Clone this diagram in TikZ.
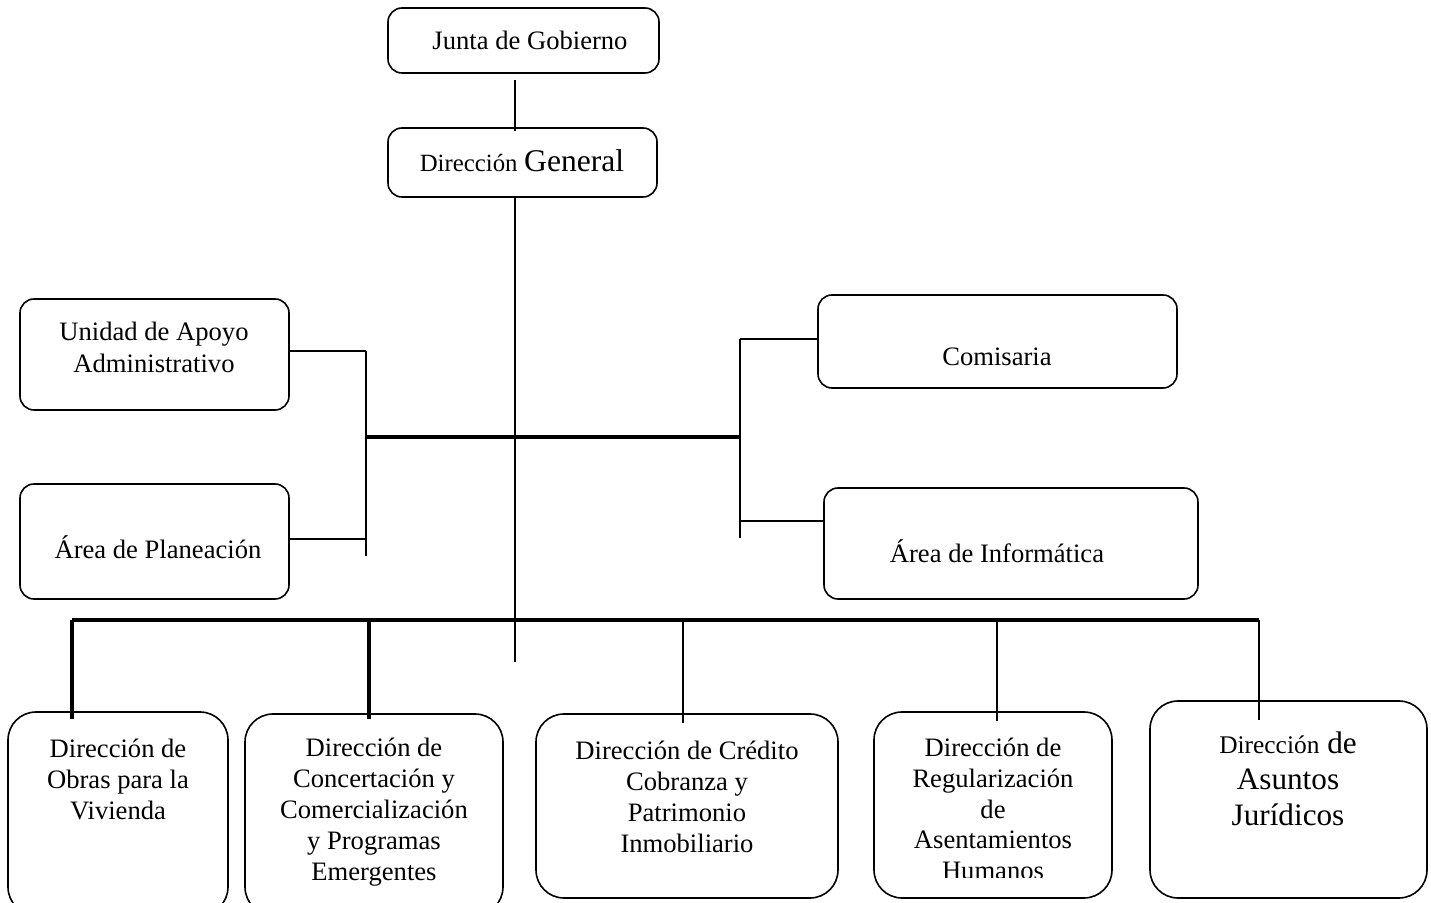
\documentclass[tikz,border=0pt]{standalone}
\usepackage{fontspec}
\setmainfont{Liberation Serif}
\begin{document}
\begin{tikzpicture}[x=0.5pt,y=-0.5pt,
  box/.style={draw,line width=0.8pt,rounded corners=7pt,inner sep=0pt,outer sep=0pt},
  bigbox/.style={box,rounded corners=14pt},
  txt/.style={inner sep=0pt,align=center,font=\fontsize{13.3}{15.5}\selectfont},
  ln/.style={line width=1pt},
  thk/.style={line width=1.6pt}]
\useasboundingbox (0,0) rectangle (1431,903);
\clip (0,0) rectangle (1431,903);
% top boxes
\node[box,minimum width=135.5pt,minimum height=32.5pt] (jg) at (523.5,40.5) {};
\node[txt] (jgt) at (530,40) {Junta de Gobierno};
\node[box,minimum width=134.5pt,minimum height=34.5pt] (dg) at (522.5,162.5) {};
\node[txt] (dgt) at (522,161) {{\fontsize{12.4}{15}\selectfont Dirección} {\fontsize{15.8}{18}\selectfont General}};
% staff boxes
\node[box,minimum width=134.5pt,minimum height=55.5pt] (ua) at (154.5,354.5) {};
\node[txt,font=\fontsize{13.3}{16}\selectfont] (uat) at (154,347) {Unidad de Apoyo\\Administrativo};
\node[box,minimum width=134.5pt,minimum height=57.5pt] (ap) at (154.5,541.5) {};
\node[txt] (apt) at (158,547) {Área de Planeación};
\node[box,minimum width=179.5pt,minimum height=46.5pt] (co) at (997.5,341.5) {};
\node[txt] (cot) at (997,357) {Comisaria};
\node[box,minimum width=187pt,minimum height=55.5pt] (ai) at (1011,543.5) {};
\node[txt] (ait) at (997,551) {Área de Informática};
% bottom boxes
\node[bigbox,minimum width=110pt,minimum height=101.5pt] (ob) at (118,813.5) {};
\node[txt] (obt) at (118,779.5) {Dirección de\\Obras para la\\Vivienda};
\node[bigbox,minimum width=129pt,minimum height=100.5pt] (cc) at (374,814.5) {};
\node[txt] (cct) at (374,812) {Dirección de\\Concertación y\\Comercialización\\y Programas\\Emergentes};
\node[bigbox,minimum width=151pt,minimum height=92pt] (cr) at (687,806) {};
\node[txt] (crt) at (687,796.5) {Dirección de Crédito\\Cobranza y\\Patrimonio\\Inmobiliario};
\node[bigbox,minimum width=119pt,minimum height=93pt] (rg) at (993,805) {};
\begin{scope}
\clip (870,700) rectangle (1115,877);
\node[txt,font=\fontsize{13.3}{15.3}\selectfont] (rgt) at (993,809) {Dirección de\\Regularización\\de\\Asentamientos\\Humanos};
\end{scope}
\node[bigbox,minimum width=138.5pt,minimum height=98.5pt] (aj) at (1288.5,799.5) {};
\node[txt,font=\fontsize{15.6}{18}\selectfont] (ajt) at (1288,779) {{\fontsize{12.7}{18}\selectfont Dirección} de\\Asuntos\\Jurídicos};
% connector points
\coordinate (j1) at (515,80);
\coordinate (j2) at (515,131);
\coordinate (sp) at (515,662);
\coordinate (hl) at (366,437);
\coordinate (hr) at (740,437);
\coordinate (lt) at (366,351);
\coordinate (lb) at (366,556);
\coordinate (lm) at (366,539);
\coordinate (rt) at (740,339);
\coordinate (rb) at (740,538);
\coordinate (rm) at (740,521);
\coordinate (b1) at (72,620);
\coordinate (b5) at (1259,620);
% connectors
\draw[ln] (j1) -- (j2);
\draw[ln] (dg.south -| j1) -- (sp);
\draw[thk] (hl) -- (hr);
\draw[ln] (lt) -- (lb);
\draw[ln] (ua.east |- lt) -- (lt);
\draw[ln] (ap.east |- lm) -- (lm);
\draw[ln] (rt) -- (rb);
\draw[ln] (rt) -- (co.west |- rt);
\draw[ln] (rm) -- (ai.west |- rm);
\draw[thk] (b1) -- (b5);
\draw[thk] (b1) -- (ob.north -| b1) -- ++(0,7);
\draw[thk] (369,620) -- (cc.north -| 369,0) -- ++(0,5);
\draw[ln] (683,620) -- (cr.north -| 683,0) -- ++(0,9);
\draw[ln] (997,620) -- (rg.north -| 997,0) -- ++(0,9);
\draw[ln] (b5) -- (aj.north -| b5) -- ++(0,19);
\end{tikzpicture}
\end{document}
